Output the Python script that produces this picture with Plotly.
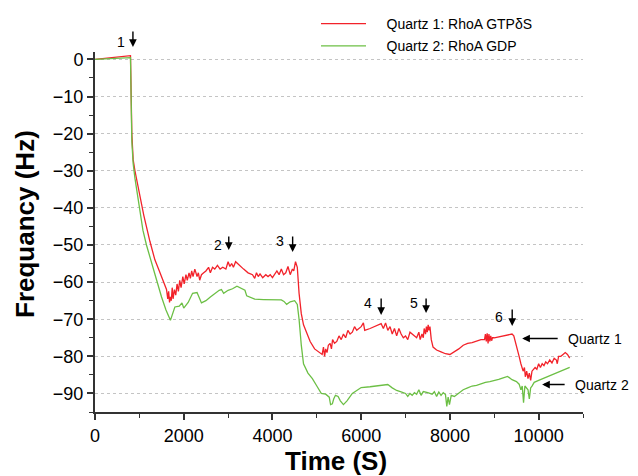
import plotly.graph_objects as go

# Quartz 1: RhoA GTPδS (red)
t1 = [0, 400, 800, 830, 860, 900, 1000, 1100, 1237, 1350, 1450, 1550, 1612, 1640, 1660, 1680, 1700, 1720, 1740, 1760,
      1790, 1820, 1850, 1880, 1910, 1940, 1980, 2010, 2050, 2080, 2120, 2150, 2180, 2210, 2250, 2300, 2330, 2360, 2400,
      2450, 2500, 2560, 2600, 2650, 2700, 2760, 2820, 2880, 2950, 3000, 3040, 3080, 3120, 3170, 3250, 3350, 3450, 3550,
      3600, 3640, 3680, 3720, 3780, 3850, 3900, 3950, 4000, 4050, 4100, 4150, 4200, 4250, 4300, 4350, 4400, 4450, 4480,
      4520, 4560, 4600, 4650, 4700, 4780, 4850, 4950, 5062, 5120, 5150, 5175, 5200, 5230, 5260, 5300, 5330, 5355, 5400,
      5450, 5500, 5550, 5600, 5650, 5700, 5750, 5800, 5850, 5900, 5950, 6000, 6050, 6080, 6200, 6300, 6400, 6450, 6500,
      6550, 6600, 6650, 6700, 6750, 6800, 6850, 6900, 6950, 7000, 7050, 7100, 7200, 7250, 7300, 7330, 7370, 7400, 7420,
      7450, 7470, 7490, 7510, 7530, 7550, 7580, 7620, 7700, 7800, 7900, 8000, 8100, 8200, 8300, 8400, 8500, 8600, 8700,
      8780, 8800, 8820, 8840, 8860, 8880, 8900, 8920, 8940, 8960, 9000, 9100, 9200, 9300, 9400, 9440, 9500, 9560, 9600,
      9650, 9680, 9700, 9730, 9760, 9790, 9820, 9850, 9880, 9920, 9960, 10000, 10040, 10080, 10120, 10160, 10200, 10250,
      10300, 10350, 10400, 10420, 10450, 10500, 10550, 10600, 10650, 10700]
f1 = [0, 0.5, 1, -20, -27, -30, -36, -42, -49, -54, -57, -60, -62, -64.5, -62.5, -65.5, -64, -65, -61.5, -64.5,
      -62, -63.5, -60.5, -62.5, -59.5, -61.5, -58.5, -60.5, -58, -59.5, -57.5, -59, -57, -58.5, -56.5, -58.5, -57.5, -59.5, -58,
      -57.5, -57, -56, -57.5, -56, -56.5, -55.5, -56.5, -56, -56.5, -54.5, -55.8, -55, -56, -54.5, -55.5, -56.5, -57.5, -58,
      -59, -57.5, -58.5, -57.8, -58.8, -58, -58.5, -58, -58.8, -57.8, -57, -58, -56.5, -58, -57.5, -55.8, -58, -56.5, -57,
      -54.5, -56, -63, -68.5, -71.5, -74, -76, -78, -79, -79.5, -77.5, -80, -78, -79, -77, -76.5, -78, -75.5, -76.5,
      -76, -74.5, -75.5, -74, -75, -73, -74, -73.5, -72, -73, -72.5, -72, -71, -73, -72.5, -72, -71.5, -71.2, -72.5,
      -71, -73, -72, -74, -72.5, -74.5, -72.5, -74, -75, -74.5, -75.5, -73.5, -74.5, -75, -73.5, -75.5, -74, -75, -72.5,
      -74, -72, -73.5, -71.5, -73, -72, -75.5, -77.5, -78.3, -78.8, -79.3, -79.5, -78.8, -78, -77, -76.5, -76.3, -75.8, -75.5,
      -75.5, -74, -76, -73.8, -76.5, -74, -76, -74.5, -75.8, -75, -75, -74.8, -74.5, -74.2, -74, -74.5, -77, -80, -82,
      -84, -83, -85.5, -84, -86, -84.5, -86.5, -84, -83.5, -83, -83.5, -82, -83, -82, -82.5, -81.5, -82, -81,
      -81.8, -80.5, -81, -82, -80, -80, -79.5, -79, -79.5, -80.5]

# Quartz 2: RhoA GDP (green)
t2 = [0, 400, 800, 830, 860, 900, 1000, 1080, 1160, 1250, 1390, 1500, 1600, 1700, 1800, 1900, 1960, 2000, 2100, 2200,
      2300, 2400, 2500, 2600, 2700, 2800, 2850, 2900, 3000, 3100, 3200, 3300, 3380, 3420, 3500, 3600, 3800, 4000, 4200,
      4260, 4320, 4400, 4500, 4560, 4600, 4650, 4700, 4800, 4900, 5000, 5100, 5200, 5280, 5310, 5350, 5380, 5420, 5480,
      5530, 5600, 5680, 5800, 5900, 6000, 6200, 6400, 6600, 6700, 6800, 6900, 7000, 7050, 7100, 7150, 7200, 7250, 7300,
      7350, 7400, 7500, 7600, 7650, 7700, 7750, 7800, 7850, 7900, 7930, 7960, 7990, 8030, 8100, 8200, 8300, 8400, 8500,
      8600, 8700, 8800, 8900, 9000, 9100, 9200, 9300, 9400, 9500, 9560, 9600, 9630, 9660, 9690, 9720, 9760, 9790, 9820,
      9850, 9900, 10000, 10200, 10400, 10600, 10700]
f2 = [0, 0.2, 0.5, -22, -28, -32, -40, -46, -50, -54, -59.5, -64, -67.5, -70.3, -66.7, -66.5, -65.6, -67, -65.5, -63,
      -62.8, -65.6, -65, -64, -63, -62.2, -62, -63, -62.2, -61.8, -61.1, -61.6, -62.2, -63.7, -64.2, -64.6, -64.7, -64.8, -64.8,
      -65.2, -66, -65.3, -65, -66, -70, -77, -82, -84.5, -86, -88, -90, -90.2, -91, -93, -92.8, -91.5, -90.5, -90.8,
      -92, -93, -92, -90, -89.2, -88.4, -88.2, -88, -87.6, -88.5, -89.2, -89.6, -90, -90.8, -90, -90.5, -89.8, -90.2, -89,
      -90.5, -89.5, -89.8, -90.2, -89.5, -90.8, -89.6, -90.5, -89.8, -90.3, -93.5, -91, -93, -90.5, -90.8, -90, -89, -88.5, -88,
      -87.8, -87.3, -87, -86.8, -86.6, -86.2, -85.8, -85.4, -86.3, -86.8, -87.5, -89, -88, -92.5, -88, -88.5, -89, -91.5, -88.5,
      -88, -87, -86.5, -85.5, -84.6, -83.6, -83]

series_names = ["Quartz 1: RhoA GTPδS", "Quartz 2: RhoA GDP"]
step_labels = ["1", "2", "3", "4", "5", "6"]
step_times = [855, 3015, 4455, 6450, 7463, 9404]
x_tickvals = [0, 2000, 4000, 6000, 8000, 10000]
x_ticktext = ["0", "2000", "4000", "6000", "8000", "10000"]
y_tickvals = [0, -10, -20, -30, -40, -50, -60, -70, -80, -90]
x_title = "Time (S)"
y_title = "Frequancy (Hz)"

FONT = "Liberation Sans, Arial, sans-serif"
RED = "#f2222a"
GREEN = "#6cbf45"

# page body has an 8px default margin: figure is drawn 8px smaller and offset
W, H = 630, 468
PAD = "\u00a0" * 4

fig = go.Figure()
fig.add_trace(go.Scatter(x=t1, y=f1, mode="lines", name=PAD + series_names[0], legendgroup="a",
                         line=dict(color=RED, width=1.3)))
fig.add_trace(go.Scatter(x=t2, y=f2, mode="lines", name=PAD + series_names[1], legendgroup="b",
                         line=dict(color=GREEN, width=1.3)))

PB, PH = 412, 360
def py(p):
    return (PB - p) / PH

arrow_head_px = [47, 250, 252, 315, 313, 326]
arrow_tail_px = [30, 235, 235, 297, 297, 308]
label_dx = [-12, -11, -13, -13, -12, -13]
label_py = [42, 245, 241, 303, 303, 317]
anns = []
for lab, t, hp, tp, dx, lp in zip(step_labels, step_times, arrow_head_px, arrow_tail_px, label_dx, label_py):
    anns.append(dict(x=t, y=py(hp), xref="x", yref="paper", text="", showarrow=True,
                     ax=0, ay=tp - hp, arrowhead=2, arrowsize=1.1, arrowwidth=1.4, arrowcolor="black"))
    anns.append(dict(x=t, y=py(lp), xref="x", yref="paper", text=lab, showarrow=False,
                     xanchor="center", yanchor="middle",
                     xshift=dx, font=dict(family=FONT, size=14, color="black")))

anns.append(dict(x=9629, y=-75.2, xref="x", yref="y", text="", showarrow=True, ax=37, ay=0,
                 arrowhead=2, arrowsize=1.1, arrowwidth=1.4, arrowcolor="black"))
anns.append(dict(x=10619, y=-75.2, xref="x", yref="y", text="Quartz 1", showarrow=False,
                 xanchor="left", yanchor="middle", font=dict(family=FONT, size=14, color="black")))
anns.append(dict(x=10079, y=-87.6, xref="x", yref="y", text="", showarrow=True, ax=24, ay=0,
                 arrowhead=2, arrowsize=1.1, arrowwidth=1.4, arrowcolor="black"))
anns.append(dict(x=10776, y=-87.6, xref="x", yref="y", text="Quartz 2", showarrow=False,
                 xanchor="left", yanchor="middle", font=dict(family=FONT, size=14, color="black")))

# axis titles
anns.append(dict(x=(17 - 87) / 488, y=(404 - 216) / 360, xref="paper", yref="paper",
                 text="<b>" + y_title + "</b>", textangle=-90, showarrow=False,
                 xanchor="center", yanchor="middle", font=dict(family=FONT, size=26, color="black")))
anns.append(dict(x=(328 - 87) / 488, y=(404 - 453) / 360, xref="paper", yref="paper",
                 text="<b>" + x_title + "</b>", showarrow=False,
                 xanchor="center", yanchor="middle", font=dict(family=FONT, size=26, color="black")))

fig.update_layout(
    width=W, height=H,
    margin=dict(l=87, r=55, t=44, b=64, autoexpand=False),
    paper_bgcolor="white", plot_bgcolor="white",
    font=dict(family=FONT, color="black"),
    showlegend=True,
    legend=dict(xref="container", yref="container", x=308 / W, y=1 + 6 / H,
                xanchor="left", yanchor="top", bgcolor="rgba(0,0,0,0)",
                font=dict(family=FONT, size=14), tracegroupgap=1, itemwidth=45),
    annotations=anns,
    xaxis=dict(range=[0, 11000], tickvals=x_tickvals, ticktext=x_ticktext,
               ticks="outside", ticklen=6, tickwidth=1.5, tickcolor="#333",
               minor=dict(dtick=1000, ticks="outside", ticklen=4, tickwidth=1.2, tickcolor="#333", showgrid=False),
               showline=True, linecolor="#333", linewidth=2, showgrid=False, zeroline=False,
               tickfont=dict(family=FONT, size=18, color="black")),
    yaxis=dict(range=[-95, 2], tickvals=y_tickvals,
               ticks="outside", ticklen=6, tickwidth=1.5, tickcolor="#333",
               minor=dict(dtick=5, ticks="outside", ticklen=4, tickwidth=1.2, tickcolor="#333", showgrid=False),
               showline=True, linecolor="#333", linewidth=2,
               showgrid=True, gridcolor="#c4c4c4", griddash="dot", gridwidth=1, zeroline=False,
               tickfont=dict(family=FONT, size=18, color="black")),
)

fig.write_html("out.html")
